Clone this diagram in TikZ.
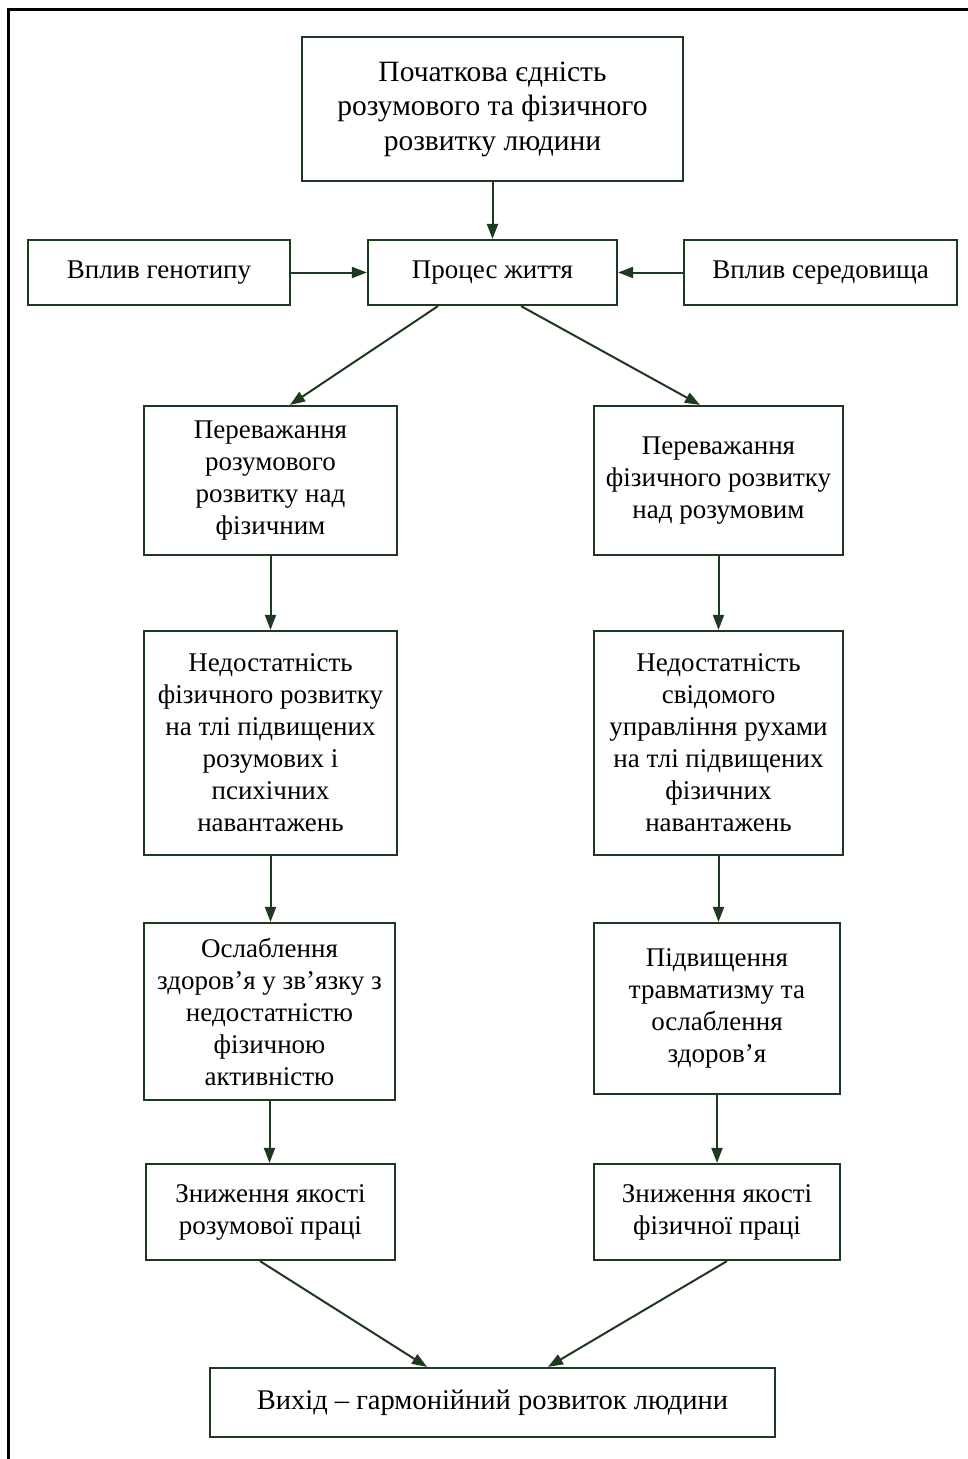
\documentclass[tikz,border=0pt]{standalone}
\usepackage{fontspec}
\setmainfont{Liberation Serif}
\usetikzlibrary{arrows.meta,calc}
\definecolor{lineg}{HTML}{1E3A1E}
\begin{document}
\begin{tikzpicture}[x=1pt,y=-1pt,
  box/.style={draw=lineg, line width=2.2pt, rectangle, align=center, inner sep=0pt,
    font=\fontsize{27}{32}\selectfont, text=black},
  conn/.style={draw=lineg, line width=2pt, -{Triangle[length=15pt,width=11pt]}}]
\useasboundingbox (0,0) rectangle (968,1459);
\fill[white] (0,0) rectangle (968,1459);
\draw[line width=3pt, black] (8,1459) -- (8,9) -- (968,9);

\node[box, minimum width=381pt, minimum height=144pt, font=\fontsize{29.5}{34.5}\selectfont] (top) at (492.5,109)
  {Початкова єдність\\розумового та фізичного\\розвитку людини};
\node[box, minimum width=262pt, minimum height=65pt] (gen) at (159,272.5) {Вплив генотипу};
\node[box, minimum width=249pt, minimum height=65pt] (proc) at (492.5,272.5) {Процес життя};
\node[box, minimum width=273pt, minimum height=65pt] (env) at (820.5,272.5) {Вплив середовища};

\node[box, minimum width=253pt, minimum height=149pt] (l1) at (270.5,480.5)
  {Переважання\\розумового\\розвитку над\\фізичним};
\node[box, minimum width=249pt, minimum height=149pt] (r1) at (718.5,480.5)
  {Переважання\\фізичного розвитку\\над розумовим};

\node[box, minimum width=253pt, minimum height=224pt] (l2) at (270.5,743)
  {Недостатність\\фізичного розвитку\\на тлі підвищених\\розумових і\\психічних\\навантажень};
\node[box, minimum width=249pt, minimum height=224pt] (r2) at (718.5,743)
  {Недостатність\\свідомого\\управління рухами\\на тлі підвищених\\фізичних\\навантажень};

\node[box, minimum width=251pt, minimum height=177pt] (l3) at (269.5,1011.5)
  {Ослаблення\\здоров’я у зв’язку з\\недостатністю\\фізичною\\активністю};
\node[box, minimum width=246pt, minimum height=171pt] (r3) at (717,1008.5)
  {Підвищення\\травматизму та\\ослаблення\\здоров’я};

\node[box, minimum width=249pt, minimum height=96pt] (l4) at (270.5,1212)
  {Зниження якості\\розумової праці};
\node[box, minimum width=246pt, minimum height=96pt] (r4) at (717,1212)
  {Зниження якості\\фізичної праці};

\node[box, minimum width=565pt, minimum height=69pt, font=\fontsize{28.5}{34}\selectfont] (out) at (492.5,1402.5)
  {Вихід – гармонійний розвиток людини};

\draw[conn] (top.south) -- (proc.north);
\draw[conn] (gen.east) -- (proc.west);
\draw[conn] (env.west) -- (proc.east);
\draw[conn] ($(proc.south)+(-54.5,0)$) -- ($(l1.north)+(19.5,0)$);
\draw[conn] ($(proc.south)+(28.5,0)$) -- ($(r1.north)+(-18.5,0)$);
\draw[conn] (l1.south) -- (l2.north);
\draw[conn] (r1.south) -- (r2.north);
\draw[conn] (l2.south) -- (l2.south |- l3.north);
\draw[conn] (r2.south) -- (r2.south |- r3.north);
\draw[conn] (l3.south) -- (l3.south |- l4.north);
\draw[conn] (r3.south) -- (r4.north);
\draw[conn] ($(l4.south)+(-10.5,0)$) -- ($(out.north)+(-65.5,0)$);
\draw[conn] ($(r4.south)+(10,0)$) -- ($(out.north)+(55.5,0)$);
\end{tikzpicture}
\end{document}
